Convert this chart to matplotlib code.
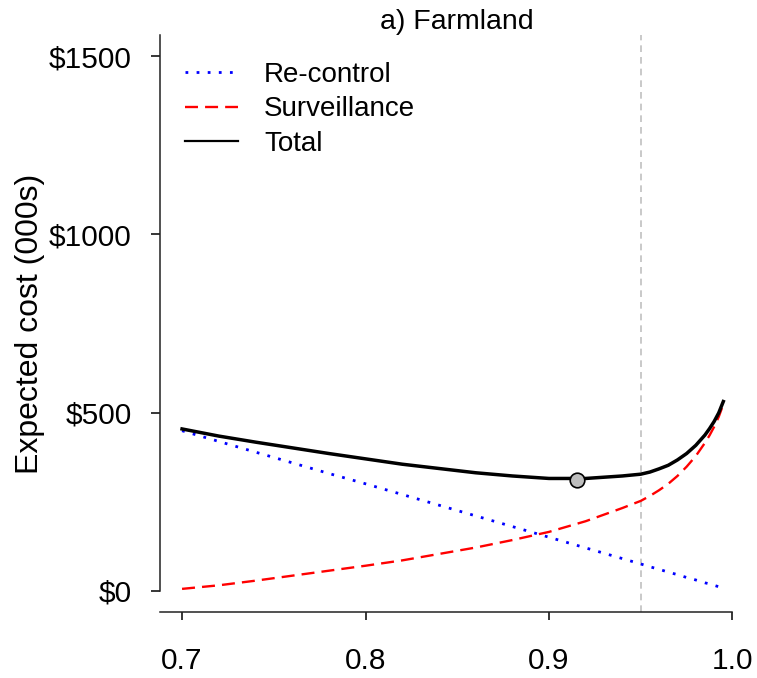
import matplotlib
matplotlib.use("Agg")
import matplotlib.pyplot as plt
from matplotlib.lines import Line2D

plt.rcParams["font.family"] = ["Liberation Sans", "DejaVu Sans"]

# 검출 확률 (x축)
prob = [0.70, 0.72, 0.74, 0.76, 0.78, 0.80, 0.82, 0.84, 0.86, 0.88,
        0.90, 0.92, 0.94, 0.95, 0.955, 0.96, 0.965, 0.97, 0.975, 0.98,
        0.985, 0.9875, 0.99, 0.9925, 0.995]
# 재방제 비용 (000s)
recontrol = [449, 419, 389, 359, 329, 300, 270, 240, 210, 180,
             150, 120, 90, 75, 67, 60, 52, 45, 37, 30,
             22, 19, 15, 11, 8]
# 감시 비용 (000s)
surveillance = [5, 15, 28, 42, 56, 70, 85, 103, 121, 142,
                165, 195, 232, 252, 266, 282, 300, 322, 348, 378,
                415, 436, 460, 488, 523]
total = [r + s for r, s in zip(recontrol, surveillance)]

opt_prob = 0.915
opt_cost = 312
ref_prob = 0.95

yticks = [0, 500, 1000, 1500]
ytick_labels = ["\\$0", "\\$500", "\\$1000", "\\$1500"]
xticks = [0.7, 0.8, 0.9, 1.0]
xtick_labels = ["0.7", "0.8", "0.9", "1.0"]

fig = plt.figure(figsize=(7.57, 6.78), dpi=100)
ax = fig.add_axes([0.2114, 0.0973, 0.7853, 0.8511])

ax.axvline(ref_prob, color="#c0c0c0", lw=1.2, ls=(0, (4, 3)), zorder=1)
ax.plot(prob, recontrol, color="#0000ff", lw=2.0, ls=(0, (1, 3)), zorder=2)
ax.plot(prob, surveillance, color="#ff0000", lw=1.7, ls=(0, (5.5, 3)), zorder=2)
ax.plot(prob, total, color="black", lw=2.5, solid_joinstyle="round", zorder=3)
ax.plot([opt_prob], [opt_cost], "o", ms=10.5, mfc="#bebebe", mec="black",
        mew=1.2, zorder=4)

ax.set_xlim(0.688, 1.012)
ax.set_ylim(-60, 1560)
ax.spines["top"].set_visible(False)
ax.spines["right"].set_visible(False)
ax.spines["left"].set_bounds(0, 1560)
ax.spines["bottom"].set_bounds(0.688, 1.0)
for side in ["left", "bottom"]:
    ax.spines[side].set_linewidth(1.1)
    ax.spines[side].set_color("#222222")

ax.set_yticks(yticks)
ax.set_yticklabels(ytick_labels)
ax.set_xticks(xticks)
ax.set_xticklabels(xtick_labels)
ax.tick_params(axis="y", length=6.5, width=1.1, pad=14, labelsize=21.5)
ax.tick_params(axis="x", length=6, width=1.1, pad=19, labelsize=21.5)

ax.set_ylabel("Expected cost (000s)", fontsize=23, labelpad=3)
ax.set_title("a) Farmland", fontsize=20.5, pad=3)

handles = [
    Line2D([], [], color="#0000ff", lw=2.0, ls=(0, (1, 3))),
    Line2D([], [], color="#ff0000", lw=1.7, ls=(0, (5.5, 3))),
    Line2D([], [], color="black", lw=1.6),
]
ax.legend(handles, ["Re-control", "Surveillance", "Total"], loc="upper left",
          bbox_to_anchor=(0.042, 0.953), frameon=False, fontsize=20,
          handlelength=1.9, handletextpad=0.95, labelspacing=0.3,
          borderaxespad=0, borderpad=0)

fig.savefig("out.png", dpi=100)
